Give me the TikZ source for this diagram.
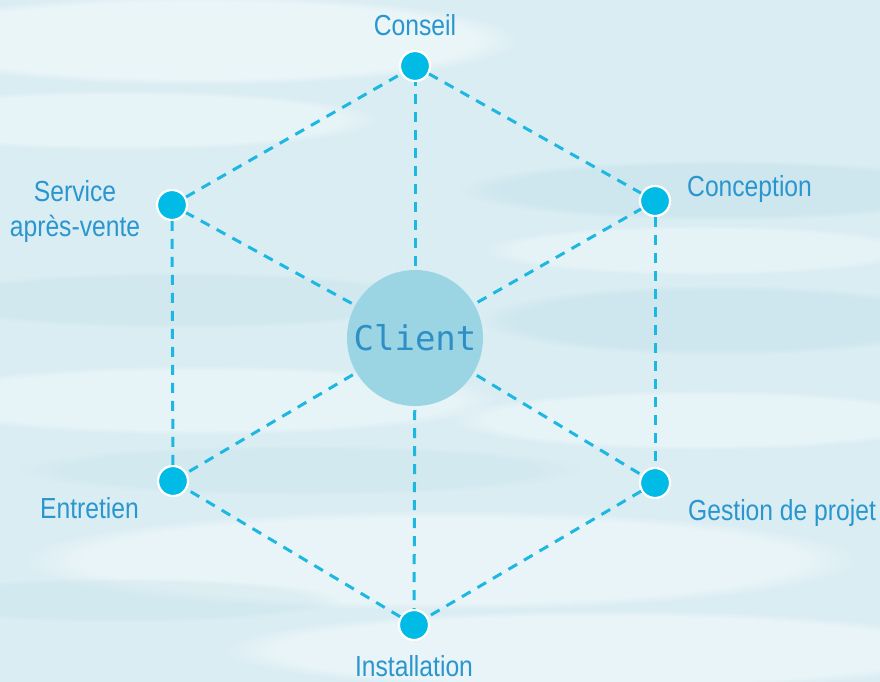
\documentclass[tikz,border=0pt]{standalone}
\usepackage{fontspec}
\usetikzlibrary{fadings}
\newfontfamily\labfont{Liberation Sans}[FakeStretch=0.85]
\newfontfamily\clientfont{DejaVu Sans Mono}
\definecolor{bgbase}{HTML}{DAEDF3}
\definecolor{bgdark}{HTML}{C4E1EA}
\definecolor{dotblue}{HTML}{00BBE6}
\definecolor{lineblue}{HTML}{1DB8E2}
\definecolor{labblue}{HTML}{2A96CF}
\definecolor{circfill}{HTML}{9BD5E3}
\definecolor{clienttxt}{HTML}{2E8FC6}
\tikzset{
  dotnode/.style={circle, fill=dotblue, draw=white, line width=2.2pt, minimum size=30pt, inner sep=0pt},
  hubnode/.style={circle, fill=circfill, minimum size=136pt, inner sep=0pt, text=clienttxt, font=\clientfont\fontsize{34}{40}\selectfont},
  dl/.style={draw=lineblue, line width=3pt, dash pattern=on 10pt off 8pt},
  lab/.style={text=labblue, inner sep=0pt, font=\labfont\fontsize{29}{35}\selectfont},
  streak/.style={fill=#1, path fading=circle with fuzzy edge 15 percent}
}
\begin{document}
\begin{tikzpicture}[x=1pt,y=-1pt]
\useasboundingbox (0,0) rectangle (880,682);
% background
\fill[bgbase] (0,0) rectangle (880,682);
\begin{scope}
\clip (0,0) rectangle (880,682);
\fill[streak=white, opacity=0.45] (200,40) ellipse (320 and 45);
\fill[streak=white, opacity=0.35] (120,120) ellipse (260 and 30);
\fill[streak=bgdark, opacity=0.5] (720,190) ellipse (260 and 30);
\fill[streak=white, opacity=0.3] (700,250) ellipse (220 and 25);
\fill[streak=bgdark, opacity=0.4] (180,300) ellipse (260 and 28);
\fill[streak=bgdark, opacity=0.5] (720,320) ellipse (240 and 35);
\fill[streak=white, opacity=0.35] (200,400) ellipse (300 and 35);
\fill[streak=white, opacity=0.35] (700,420) ellipse (250 and 30);
\fill[streak=bgdark, opacity=0.3] (300,470) ellipse (280 and 25);
\fill[streak=white, opacity=0.4] (440,560) ellipse (420 and 50);
\fill[streak=bgdark, opacity=0.3] (120,600) ellipse (220 and 22);
\fill[streak=white, opacity=0.4] (600,650) ellipse (380 and 40);
\end{scope}
% nodes
\node[hubnode] (client) at (415,338) {\raisebox{-3pt}{Client}};
\node[dotnode] (conseil) at (415,66) {};
\node[dotnode] (conception) at (655,201) {};
\node[dotnode] (gestion) at (655,483) {};
\node[dotnode] (installation) at (414,625) {};
\node[dotnode] (entretien) at (173,481) {};
\node[dotnode] (service) at (172,205) {};
% connectors
\draw[dl] (conseil) -- (conception);
\draw[dl] (conception) -- (gestion);
\draw[dl] (gestion) -- (installation);
\draw[dl] (installation) -- (entretien);
\draw[dl] (entretien) -- (service);
\draw[dl] (service) -- (conseil);
\draw[dl, shorten <=4pt] (client) -- (conseil);
\draw[dl, shorten <=4pt] (client) -- (conception);
\draw[dl, shorten <=4pt] (client) -- (gestion);
\draw[dl, shorten <=4pt] (client) -- (installation);
\draw[dl, shorten <=4pt] (client) -- (entretien);
\draw[dl, shorten <=4pt] (client) -- (service);
% labels
\node[lab, anchor=base] (lconseil) at (415,36) {Conseil};
\node[lab, anchor=base west] (lconception) at (687,196) {Conception};
\node[lab, anchor=base west] (lgestion) at (688,520) {Gestion de projet};
\node[lab, anchor=base] (linstallation) at (414,676) {Installation};
\node[lab, anchor=base east] (lentretien) at (139,518) {Entretien};
\node[lab, anchor=base] (lservice1) at (75,201) {Service};
\node[lab, anchor=base] (lservice2) at (75,236) {après-vente};
\end{tikzpicture}
\end{document}
